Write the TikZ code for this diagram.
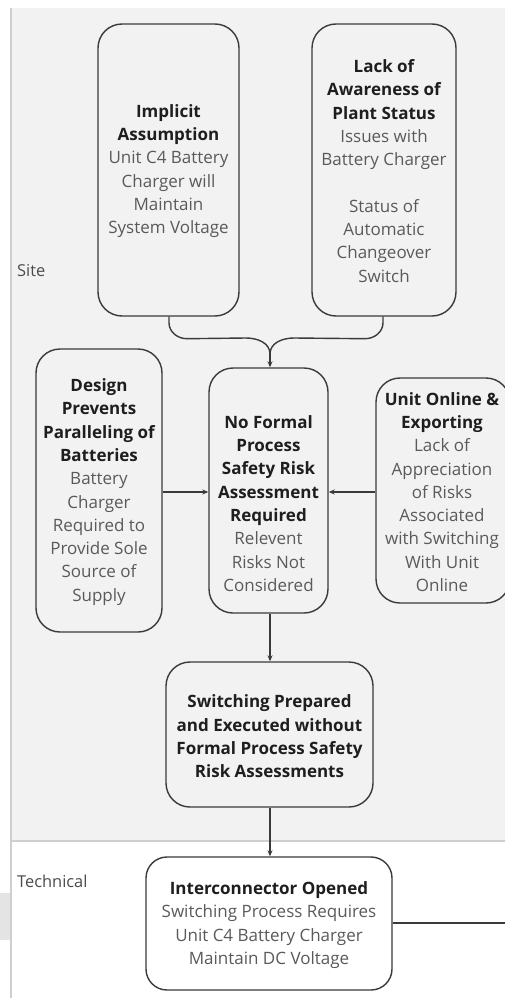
\documentclass[tikz,border=0pt]{standalone}
\usepackage{fontspec}
\setmainfont{Open Sans}
\usetikzlibrary{arrows.meta}
\definecolor{lane}{HTML}{F2F2F2}
\definecolor{laneline}{HTML}{CFCFCF}
\definecolor{edge}{HTML}{3A3A3A}
\definecolor{ttl}{HTML}{1E1E1E}
\definecolor{body}{HTML}{5A5A5A}
\tikzset{
  box/.style={draw=edge, line width=1.4pt, rounded corners=24pt, fill=lane, inner sep=0pt},
  txt/.style={align=center, inner sep=0pt, font=\fontsize{17pt}{23.3pt}\selectfont, text=body},
  lanelabel/.style={anchor=west, inner sep=0pt, font=\fontsize{16.4pt}{19pt}\selectfont, text=body!85!black},
  conn/.style={draw=edge, line width=1.4pt},
  arr/.style={conn, -{Stealth[length=6pt,width=5pt]}}
}
\newcommand{\ttl}[1]{{\bfseries\color{ttl}#1}}
\begin{document}
\begin{tikzpicture}[x=1pt,y=-1pt]
\useasboundingbox (0,0) rectangle (505,998);
% swimlanes
\fill[white] (0,0) rectangle (505,998);
\fill[lane] (11,8) rectangle (505,841);
\fill[laneline!55!white] (0,893) rectangle (10,940);
\draw[laneline, line width=1.2pt] (11,8) -- (11,998);
\draw[laneline, line width=1.2pt] (11,841) -- (505,841);
\node[lanelabel] (site) at (17,271) {Site};
\node[lanelabel] (tech) at (17,881) {Technical};

% boxes
\node[box, minimum width=141pt, minimum height=292pt] (impl) at (168.5,170) {};
\node[txt] (implt) at (168.5,171) {\ttl{Implicit}\\\ttl{Assumption}\\Unit C4 Battery\\Charger will\\Maintain\\System Voltage};

\node[box, minimum width=144pt, minimum height=292pt] (lack) at (384,170) {};
\node[txt] (lackt) at (384,171) {\ttl{Lack of}\\\ttl{Awareness of}\\\ttl{Plant Status}\\Issues with\\Battery Charger\\[23.3pt]Status of\\Automatic\\Changeover\\Switch};

\node[box, minimum width=119pt, minimum height=245pt] (nofrm) at (268.5,490.5) {};
\node[txt] (nofrmt) at (268.5,503.5) {\ttl{No Formal}\\\ttl{Process}\\\ttl{Safety Risk}\\\ttl{Assessment}\\\ttl{Required}\\Relevent\\Risks Not\\Considered};

\node[box, minimum width=126pt, minimum height=283pt] (design) at (99,490.5) {};
\node[txt] (designt) at (99,492) {\ttl{Design}\\\ttl{Prevents}\\\ttl{Paralleling of}\\\ttl{Batteries}\\Battery\\Charger\\Required to\\Provide Sole\\Source of\\Supply};

\begin{scope}
\clip (0,0) rectangle (505,998);
\node[box, minimum width=134pt, minimum height=225pt] (unit) at (443,490.5) {};
\end{scope}
\node[txt] (unitt) at (442,492) {\ttl{Unit Online \&}\\\ttl{Exporting}\\Lack of\\Appreciation\\of Risks\\Associated\\with Switching\\With Unit\\Online};

\node[box, minimum width=207pt, minimum height=145pt] (swit) at (269.5,734.5) {};
\node[txt] (switt) at (269.5,736.5) {\ttl{Switching Prepared}\\\ttl{and Executed without}\\\ttl{Formal Process Safety}\\\ttl{Risk Assessments}};

\node[box, rounded corners=21pt, fill=white, minimum width=246pt, minimum height=133pt] (inter) at (269,923.5) {};
\node[txt] (intert) at (269,925) {\ttl{Interconnector Opened}\\Switching Process Requires\\Unit C4 Battery Charger\\Maintain DC Voltage};

% connectors
\coordinate (merge) at (270,354);
\draw[conn] ([xshift=0.5pt]impl.south) -- ++(0,6) to[out=-90,in=180] ++(18,16) -- (246,338) to[out=0,in=90] (merge);
\draw[conn] ([xshift=-1pt]lack.south) -- ++(0,6) to[out=-90,in=0] ++(-18,16) -- (294,338) to[out=180,in=90] (merge);
\draw[arr] (merge) -- (nofrm.north -| merge);
\draw[arr] (design.east |- 0,492) -- (nofrm.west |- 0,492);
\draw[arr] (unit.west |- 0,492) -- (nofrm.east |- 0,492);
\draw[arr] (nofrm.south -| merge) -- (swit.north -| merge);
\draw[arr] (swit.south -| merge) -- (inter.north -| merge);
\coordinate (offr) at (505,923);
\draw[conn] (inter.east |- offr) -- (offr);
\end{tikzpicture}
\end{document}
